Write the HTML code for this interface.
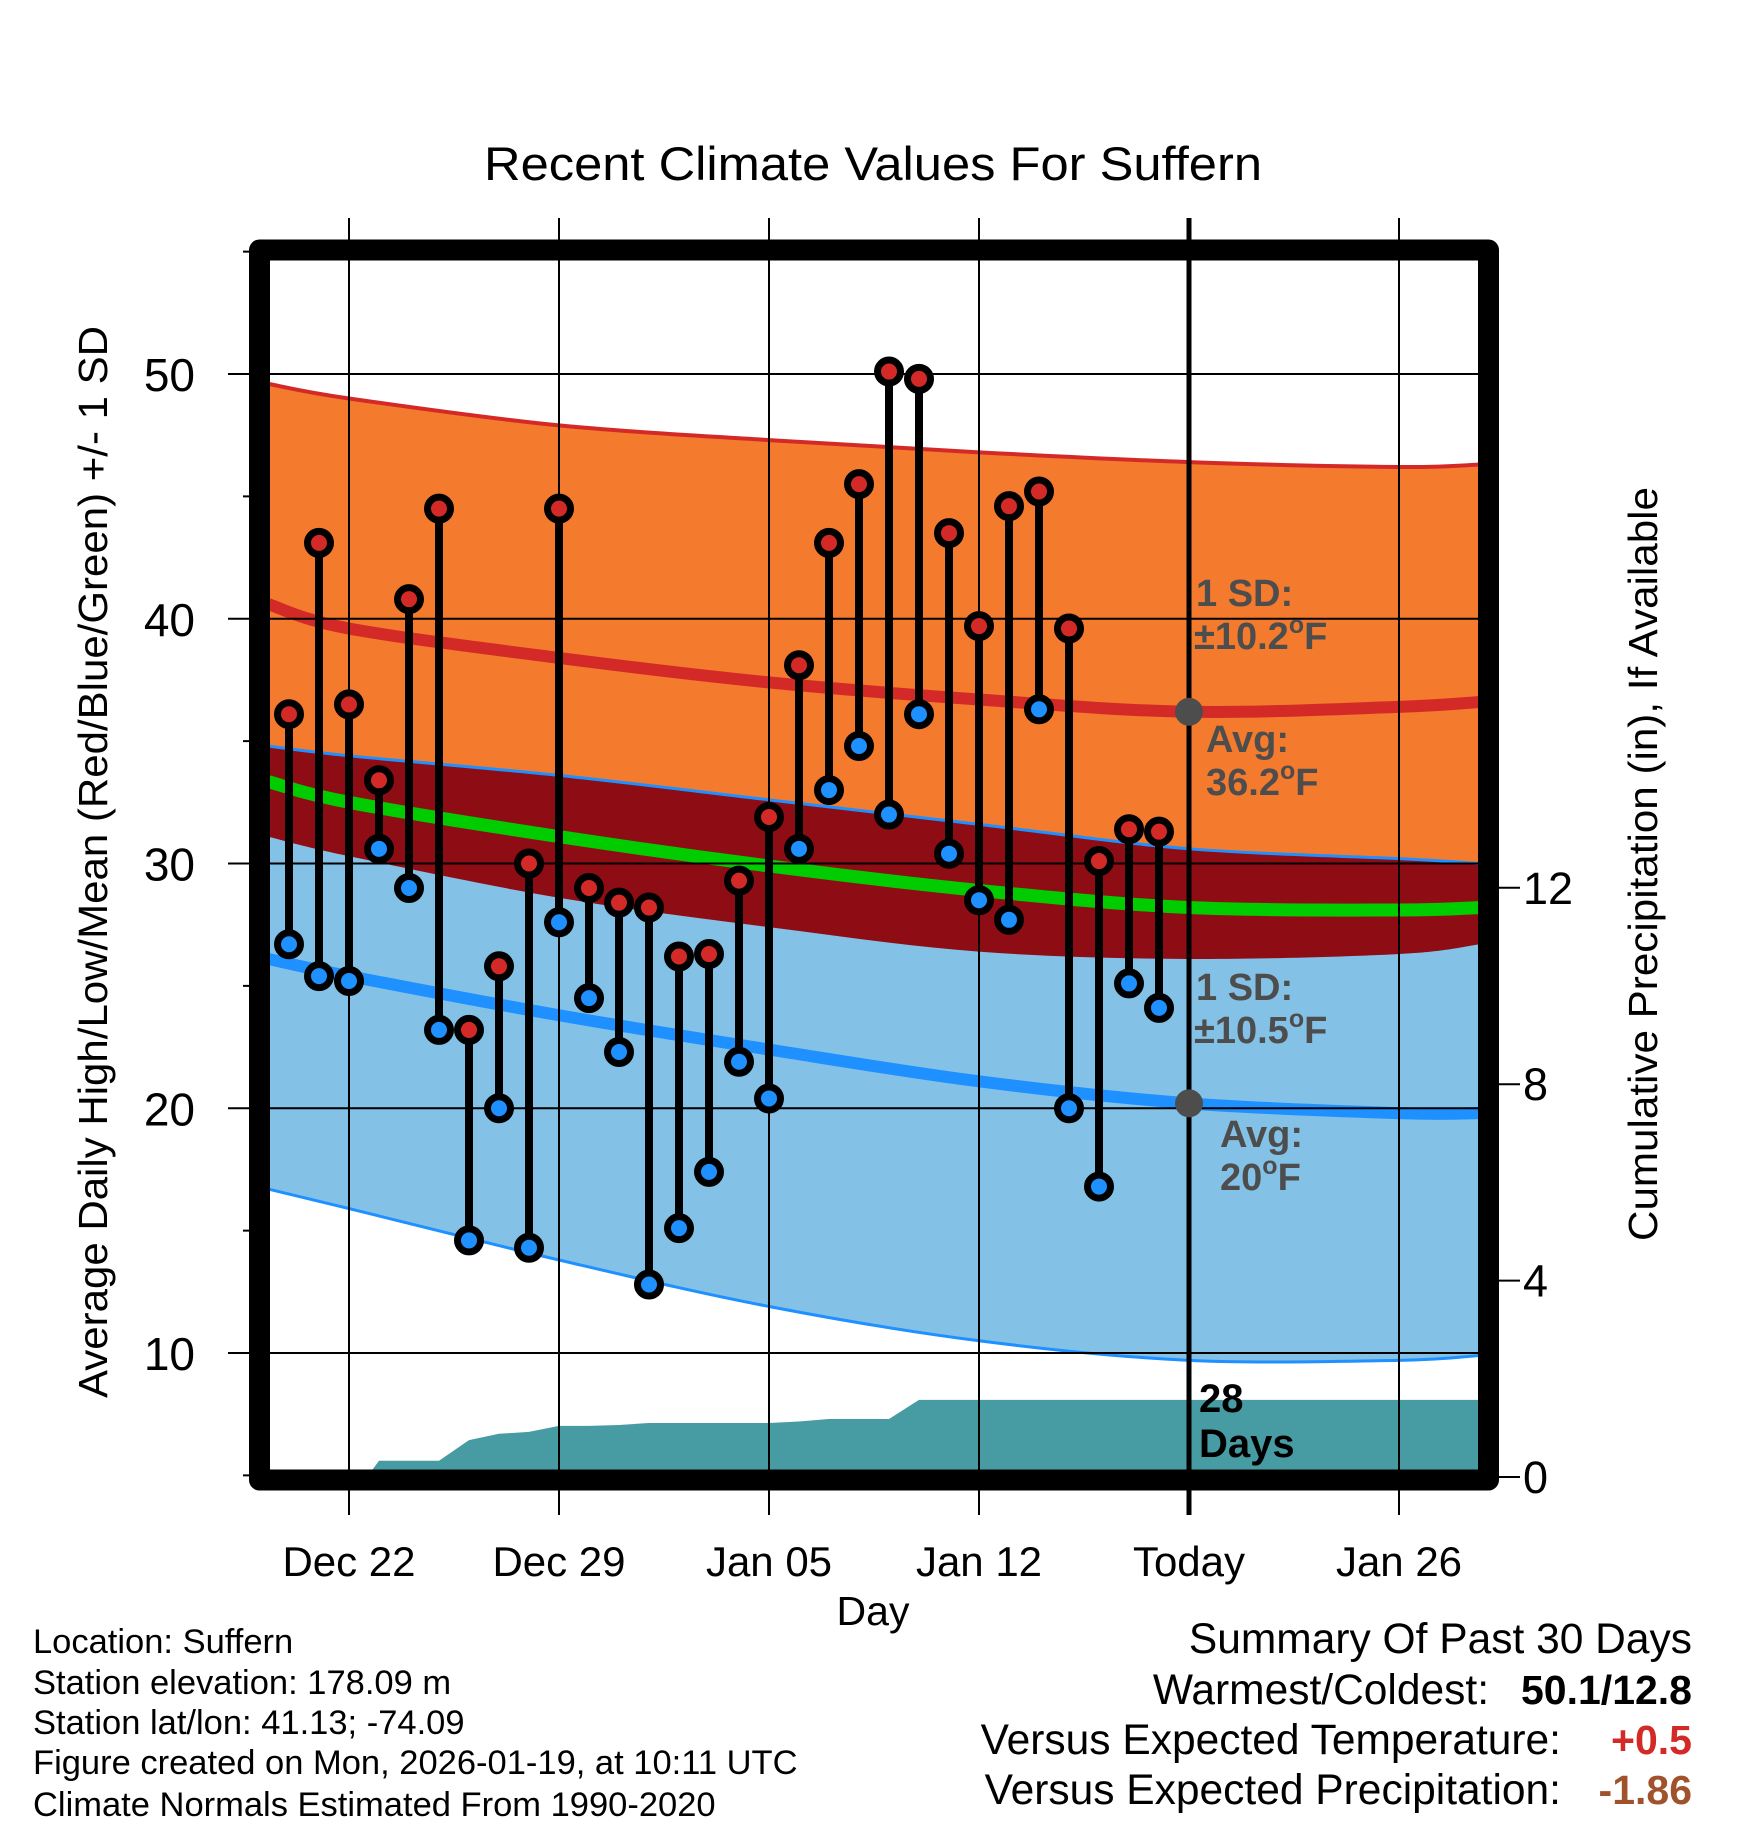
<!DOCTYPE html>
<html><head><meta charset="utf-8">
<style>
html,body{margin:0;padding:0;background:#fff;}
svg{display:block;font-family:"Liberation Sans",Arial,sans-serif;}
</style></head>
<body>
<svg id="chart" width="1748" height="1828" viewBox="0 0 1748 1828" xmlns="http://www.w3.org/2000/svg">
<defs><clipPath id="plotclip"><rect x="270" y="260" width="1208" height="1212"/></clipPath></defs>
<g id="bands" clip-path="url(#plotclip)"></g>
<g id="grid"></g>
<g id="marks" clip-path="url(#plotclip)"></g>
<rect x="259.5" y="250" width="1229" height="1230" fill="none" stroke="#000" stroke-width="21" stroke-linejoin="round"/>
<g id="axes"></g>
<text x="873" y="180" font-size="47" text-anchor="middle" textLength="778" lengthAdjust="spacingAndGlyphs">Recent Climate Values For Suffern</text>
<text x="873" y="1625" font-size="41" text-anchor="middle">Day</text>
<text transform="translate(107,862) rotate(-90)" font-size="41" text-anchor="middle" textLength="1072" lengthAdjust="spacingAndGlyphs">Average Daily High/Low/Mean (Red/Blue/Green) +/- 1 SD</text>
<text transform="translate(1657,864) rotate(-90)" font-size="41" text-anchor="middle" textLength="754" lengthAdjust="spacingAndGlyphs">Cumulative Precipitation (in), If Available</text>
<g font-weight="bold" fill="#4d4d4d" font-size="38">
<text x="1196" y="606">1 SD:</text>
<text x="1194" y="649">±10.2<tspan font-size="25" dy="-16">o</tspan><tspan dy="16">F</tspan></text>
<text x="1206" y="752">Avg:</text>
<text x="1206" y="795">36.2<tspan font-size="25" dy="-16">o</tspan><tspan dy="16">F</tspan></text>
<text x="1196" y="1000">1 SD:</text>
<text x="1194" y="1043">±10.5<tspan font-size="25" dy="-16">o</tspan><tspan dy="16">F</tspan></text>
<text x="1220" y="1147">Avg:</text>
<text x="1220" y="1190">20<tspan font-size="25" dy="-16">o</tspan><tspan dy="16">F</tspan></text>
</g>
<g font-weight="bold" fill="#000" font-size="40">
<text x="1199" y="1412">28</text><text x="1199" y="1457">Days</text>
</g>
<g font-size="34.5" fill="#000">
<text x="33" y="1653">Location: Suffern</text>
<text x="33" y="1694">Station elevation: 178.09 m</text>
<text x="33" y="1734">Station lat/lon: 41.13; -74.09</text>
<text x="33" y="1774">Figure created on Mon, 2026-01-19, at 10:11 UTC</text>
<text x="33" y="1816">Climate Normals Estimated From 1990-2020</text>
</g>
<g font-size="42.5" fill="#000">
<text x="1692" y="1653" text-anchor="end">Summary Of Past 30 Days</text>
<text x="1489" y="1704" text-anchor="end">Warmest/Coldest:</text>
<text x="1692" y="1704" text-anchor="end" font-weight="bold" font-size="41">50.1/12.8</text>
<text x="1561" y="1754" text-anchor="end">Versus Expected Temperature:</text>
<text x="1692" y="1754" text-anchor="end" font-weight="bold" font-size="41" fill="#d42a27">+0.5</text>
<text x="1561" y="1804" text-anchor="end">Versus Expected Precipitation:</text>
<text x="1692" y="1804" text-anchor="end" font-weight="bold" font-size="41" fill="#a0522d">-1.86</text>
</g>
</svg>
<script>
// Day index: 0 = Dec 22
var dayStart = -2; // Dec 20
var highs = [36.1,43.1,36.5,33.4,40.8,44.5,23.2,25.8,30.0,44.5,29.0,28.4,28.2,26.2,26.3,29.3,31.9,38.1,43.1,45.5,50.1,49.8,43.5,39.7,44.6,45.2,39.6,30.1,31.4,31.3];
var lows  = [26.7,25.4,25.2,30.6,29.0,23.2,14.6,20.0,14.3,27.6,24.5,22.3,12.8,15.1,17.4,21.9,20.4,30.6,33.0,34.8,32.0,36.1,30.4,28.5,27.7,36.3,20.0,16.8,25.1,24.1];
var normDays   = [-2.7,0,7,14,21,28,35,37.7];
var highUpper  = [49.6,49.0,47.9,47.3,46.8,46.4,46.2,46.3];
var highMean   = [40.6,39.6,38.4,37.4,36.7,36.2,36.4,36.6];
var highLower  = [31.1,30.3,28.6,27.4,26.4,26.1,26.3,26.7];
var lowUpper   = [34.8,34.4,33.6,32.6,31.6,30.6,30.2,30.0];
var lowMean    = [26.1,25.4,23.8,22.4,21.1,20.2,19.8,19.8];
var lowLower   = [16.7,15.9,13.8,11.9,10.5,9.7,9.7,9.9];
var precip = [0,0.33,0.33,0.33,0.75,0.88,0.92,1.04,1.04,1.06,1.10,1.10,1.10,1.10,1.10,1.13,1.18,1.18,1.18,1.57,1.57,1.57,1.57,1.57,1.57,1.57,1.57,1.57,1.57];
var xTickDays = [0,7,14,21,28,35];
var xTickLabels = ["Dec 22","Dec 29","Jan 05","Jan 12","Today","Jan 26"];
var yTicks = [10,20,30,40,50];
var yMinor = [5,15,25,35,45,55];
var pTicks = [0,4,8,12];
var todayDay = 28;

var NS="http://www.w3.org/2000/svg";
function X(d){return 349+30*d;}
function Y(t){return 374+(50-t)*24.475;}
function P(p){return 1477-p*49.1;}
function mk(tag,attrs,parent){var e=document.createElementNS(NS,tag);for(var k in attrs)e.setAttribute(k,attrs[k]);parent.appendChild(e);return e;}
function curvePts(arr){var pts=[];for(var i=0;i<normDays.length;i++)pts.push([X(normDays[i]),Y(arr[i])]);return pts;}
function smooth(pts){
  var d="M"+pts[0][0]+","+pts[0][1];
  for(var i=0;i<pts.length-1;i++){
    var p0=pts[Math.max(0,i-1)],p1=pts[i],p2=pts[i+1],p3=pts[Math.min(pts.length-1,i+2)];
    d+=" C"+(p1[0]+(p2[0]-p0[0])/6)+","+(p1[1]+(p2[1]-p0[1])/6)+" "+(p2[0]-(p3[0]-p1[0])/6)+","+(p2[1]-(p3[1]-p1[1])/6)+" "+p2[0]+","+p2[1];
  }
  return d;
}
function band(up,lo){
  var a=curvePts(up),b=curvePts(lo).reverse();
  return smooth(a)+" L"+b[0][0]+","+b[0][1]+smooth(b).replace(/^M[^ ]+/,"")+" Z";
}
var bands=document.getElementById('bands');
var e;
e=mk('path',{d:band(highUpper,highLower),fill:'#f47a2e'},bands);


e=mk('path',{d:band(lowUpper,lowLower),fill:'#83c1e6'},bands);


e=mk('path',{d:band(lowUpper,highLower),fill:'#8e0c14'},bands);


var meanArr=highMean.map(function(h,i){return (h+lowMean[i])/2;});
var lines=[[highUpper,'#d42a27',4,'high-upper-line'],[lowUpper,'#1e90ff',3,'low-upper-line'],[lowLower,'#1e90ff',3,'low-lower-line'],[highMean,'#d42a27',12,'high-mean-line'],[lowMean,'#1e90ff',12,'low-mean-line'],[meanArr,'#00cc00',13,'mean-line']];
lines.forEach(function(L){
  e=mk('path',{d:smooth(curvePts(L[0])),fill:'none',stroke:L[1],'stroke-width':L[2]},bands);
  
  
});
var pd="M"+X(0.6)+","+P(0);
precip.forEach(function(v,i){if(i>0)pd+=" L"+X(i)+","+P(v);});
pd+=" L"+X(37.7)+","+P(precip[precip.length-1])+" L"+X(37.7)+","+P(0)+" Z";
e=mk('path',{d:pd,fill:'#479ba3'},bands);



var grid=document.getElementById('grid');
yTicks.forEach(function(t){
  e=mk('line',{x1:228,x2:1478,y1:Y(t),y2:Y(t),stroke:'#000','stroke-width':2},grid);
  
  
});
xTickDays.forEach(function(d){
  e=mk('line',{x1:X(d),x2:X(d),y1:218,y2:1515,stroke:'#000','stroke-width':d===todayDay?5:2},grid);
  
  
});

var marks=document.getElementById('marks');
highs.forEach(function(h,i){
  var x=X(dayStart+i);
  e=mk('line',{x1:x,x2:x,y1:Y(h),y2:Y(lows[i]),stroke:'#000','stroke-width':8},marks);
  
  
});
highs.forEach(function(h,i){
  var x=X(dayStart+i);
  e=mk('circle',{cx:x,cy:Y(h),r:11.5,fill:'#d42a27',stroke:'#000','stroke-width':7},marks);
  
  
  e=mk('circle',{cx:x,cy:Y(lows[i]),r:11.5,fill:'#1e90ff',stroke:'#000','stroke-width':7},marks);
  
  
});
e=mk('circle',{cx:X(todayDay),cy:Y(highMean[5]),r:14,fill:'#4d4d4d'},marks);


e=mk('circle',{cx:X(todayDay),cy:Y(lowMean[5]),r:14,fill:'#4d4d4d'},marks);



var axes=document.getElementById('axes');
yTicks.forEach(function(t){
  e=mk('text',{x:195,y:Y(t)+17,'font-size':46,'text-anchor':'end'},axes);
  e.textContent=t;
  
  
});
yMinor.forEach(function(t){
  e=mk('line',{x1:243,x2:252,y1:Y(t),y2:Y(t),stroke:'#000','stroke-width':2},axes);
  
  
});
xTickDays.forEach(function(d,i){
  e=mk('text',{x:X(d),y:1576,'font-size':42,'text-anchor':'middle'},axes);
  e.textContent=xTickLabels[i];
  
  
});
pTicks.forEach(function(p){
  e=mk('line',{x1:1499,x2:1520,y1:P(p),y2:P(p),stroke:'#000','stroke-width':2},axes);
  
  
  e=mk('text',{x:1523,y:P(p)+16,'font-size':45},axes);
  e.textContent=p;
  
  
});
</script>
</body></html>
